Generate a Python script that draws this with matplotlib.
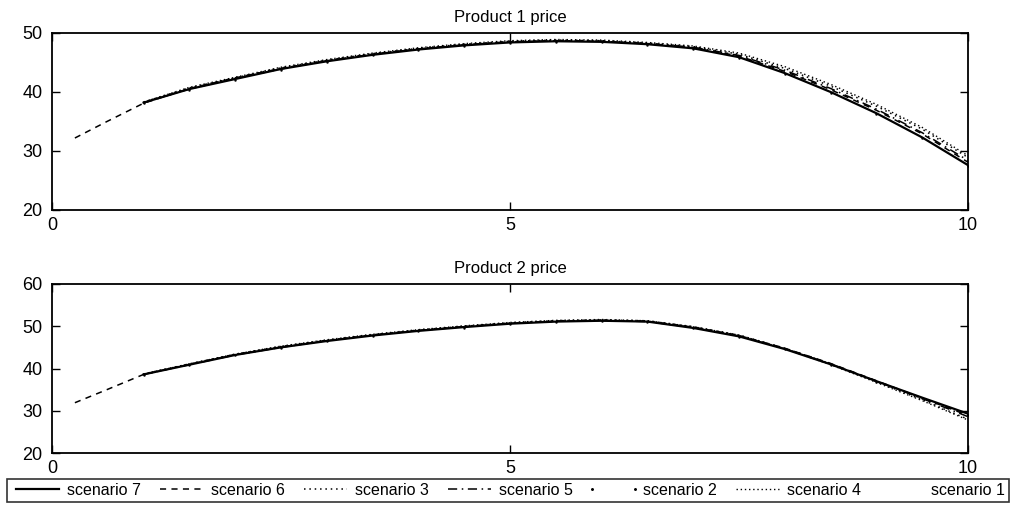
import matplotlib
matplotlib.use("Agg")
import matplotlib.pyplot as plt

plt.rcParams['font.family'] = ['Liberation Sans', 'DejaVu Sans']

# ---- data ----
x_main = [1, 1.5, 2, 2.5, 3, 3.5, 4, 4.5, 5, 5.5, 6, 6.5, 7, 7.5, 8, 8.5, 9, 9.5, 10]
x_s6 = [0.25, 0.6] + x_main

legend_order = ["scenario 7", "scenario 6", "scenario 3", "scenario 5",
                "scenario 2", "scenario 4", "scenario 1"]

p1_s7 = [38.2, 40.5, 42.2, 43.9, 45.2, 46.3, 47.2, 47.9, 48.4, 48.6, 48.5, 48.1, 47.4, 45.9, 43.2, 40.0, 36.4, 32.3, 27.6]
p1_s6 = [32.2, 35.0, 38.1, 40.6, 42.4, 44.0, 45.3, 46.4, 47.3, 48.0, 48.5, 48.7, 48.6, 48.2, 47.5, 46.1, 43.5, 40.4, 36.9, 32.9, 28.1]
p1_s3 = [38.3, 40.7, 42.4, 44.1, 45.4, 46.5, 47.4, 48.1, 48.6, 48.8, 48.7, 48.3, 47.7, 46.4, 44.0, 41.0, 37.6, 33.7, 28.9]
p1_s5 = [38.2, 40.5, 42.3, 43.9, 45.3, 46.4, 47.3, 48.0, 48.5, 48.7, 48.6, 48.2, 47.6, 46.2, 43.7, 40.6, 37.1, 33.1, 28.4]
p1_s2 = [38.2, 40.4, 42.1, 43.8, 45.1, 46.2, 47.1, 47.8, 48.3, 48.5, 48.4, 48.0, 47.3, 45.8, 43.1, 39.9, 36.3, 32.2, 27.5]
p1_s4 = [38.3, 40.8, 42.5, 44.2, 45.5, 46.6, 47.5, 48.2, 48.7, 48.9, 48.8, 48.4, 47.8, 46.6, 44.3, 41.3, 37.9, 34.0, 29.2]
p1_s1 = [38.2, 40.5, 42.2, 43.9, 45.2, 46.3, 47.2, 47.9, 48.4, 48.6, 48.5, 48.1, 47.4, 45.9, 43.2, 40.0, 36.4, 32.3, 27.6]

p2_s7 = [38.6, 40.9, 43.2, 45.0, 46.5, 47.8, 48.9, 49.8, 50.6, 51.1, 51.3, 51.1, 49.6, 47.6, 44.6, 41.0, 37.0, 33.1, 29.3]
p2_s6 = [31.9, 35.0, 38.6, 41.0, 43.3, 45.1, 46.6, 47.9, 49.0, 49.9, 50.7, 51.2, 51.4, 51.2, 49.8, 47.8, 44.8, 41.2, 37.1, 33.0, 28.9]
p2_s3 = [38.7, 41.1, 43.4, 45.2, 46.7, 48.0, 49.1, 50.0, 50.8, 51.3, 51.5, 51.3, 49.9, 47.9, 44.8, 41.1, 36.9, 32.6, 28.0]
p2_s5 = [38.6, 40.9, 43.2, 45.0, 46.6, 47.9, 49.0, 49.9, 50.7, 51.2, 51.4, 51.1, 49.7, 47.7, 44.7, 41.1, 37.0, 32.9, 28.6]
p2_s2 = [38.5, 40.8, 43.1, 44.9, 46.4, 47.7, 48.8, 49.7, 50.5, 51.0, 51.2, 51.0, 49.5, 47.5, 44.5, 40.9, 36.9, 33.0, 29.1]
p2_s4 = [38.7, 41.1, 43.4, 45.3, 46.8, 48.1, 49.2, 50.1, 50.9, 51.4, 51.6, 51.3, 49.9, 47.9, 44.7, 40.9, 36.7, 32.4, 27.8]
p2_s1 = [38.6, 40.9, 43.2, 45.0, 46.5, 47.8, 48.9, 49.8, 50.6, 51.1, 51.3, 51.1, 49.6, 47.6, 44.6, 41.0, 37.0, 33.1, 29.3]

titles = ["Product 1 price", "Product 2 price"]
x_ticks = [0, 5, 10]
y_ticks_1 = [20, 30, 40, 50]
y_ticks_2 = [20, 30, 40, 50, 60]

styles = {
    "scenario 7": dict(linestyle='-', lw=1.6),
    "scenario 6": dict(linestyle=(0, (4, 3.5)), lw=1.1),
    "scenario 3": dict(linestyle=(0, (1, 2.5)), lw=1.1),
    "scenario 5": dict(linestyle=(0, (6, 3, 1, 3)), lw=1.1),
    "scenario 2": dict(linestyle='none', marker='.', markersize=1.5),
    "scenario 4": dict(linestyle=(0, (1, 2)), lw=1.0),
    "scenario 1": dict(linestyle='none'),
}

fig = plt.figure(figsize=(10.12, 5.08), dpi=100)
ax1 = fig.add_axes([52/1012, 1-210/508, (968-52)/1012, (210-33)/508])
ax2 = fig.add_axes([52/1012, 1-453/508, (968-52)/1012, (453-284)/508])

data = [
    {"scenario 7": (x_main, p1_s7), "scenario 6": (x_s6, p1_s6), "scenario 3": (x_main, p1_s3),
     "scenario 5": (x_main, p1_s5), "scenario 2": (x_main, p1_s2), "scenario 4": (x_main, p1_s4),
     "scenario 1": (x_main, p1_s1)},
    {"scenario 7": (x_main, p2_s7), "scenario 6": (x_s6, p2_s6), "scenario 3": (x_main, p2_s3),
     "scenario 5": (x_main, p2_s5), "scenario 2": (x_main, p2_s2), "scenario 4": (x_main, p2_s4),
     "scenario 1": (x_main, p2_s1)},
]

handles = []
for ax, d, title, yt in zip([ax1, ax2], data, titles, [y_ticks_1, y_ticks_2]):
    hs = []
    for name in legend_order:
        xs, ys = d[name]
        h, = ax.plot(xs, ys, color='black', label=name, **styles[name])
        hs.append(h)
    handles = hs
    ax.set_xlim(0, 10)
    ax.set_ylim(yt[0], yt[-1])
    ax.set_xticks(x_ticks)
    ax.set_yticks(yt)
    ax.tick_params(direction='in', length=6, width=1, top=True, right=True,
                   labelsize=13, pad=5)
    ax.tick_params(axis='y', pad=7)
    for sp in ax.spines.values():
        sp.set_linewidth(1.3)
    ax.set_title(title, fontsize=12, pad=8)

leg = fig.legend(handles, legend_order, loc='lower left',
                 bbox_to_anchor=(7/1012, 1-502/508, (1009-7)/1012, 24/508),
                 mode='expand', ncol=7, fontsize=11.5, frameon=True, fancybox=False,
                 borderaxespad=0, handlelength=3.3, handletextpad=0.2,
                 columnspacing=0.6, borderpad=0.25, numpoints=2, markerscale=1.5)
leg.get_frame().set_edgecolor('black')
leg.get_frame().set_linewidth(1.2)

fig.savefig("out.png", dpi=100)
